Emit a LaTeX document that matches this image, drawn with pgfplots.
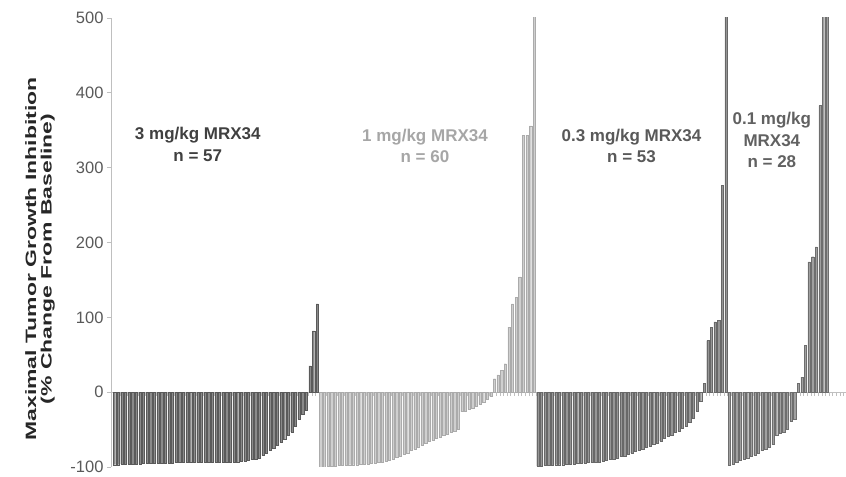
\documentclass[border=0pt]{standalone}
\usepackage{pgfplots}
\pgfplotsset{compat=1.18}
\usepackage{pgfplotstable}
\usepackage{fontspec}
\setmainfont{Liberation Sans}
\definecolor{gAf}{HTML}{8A8A8A}\definecolor{gAe}{HTML}{5A5A5A}
\definecolor{gBf}{HTML}{CFCFCF}\definecolor{gBe}{HTML}{ABABAB}
\definecolor{gCf}{HTML}{969696}\definecolor{gCe}{HTML}{686868}
\definecolor{gDf}{HTML}{A0A0A0}\definecolor{gDe}{HTML}{6E6E6E}
\definecolor{axisgray}{HTML}{BFBFBF}
\definecolor{ticktext}{HTML}{595959}

\pgfplotstableread{
v
-97
-97
-96
-96
-96
-96
-96
-96
-95
-95
-95
-95
-95
-95
-95
-95
-95
-94
-94
-94
-94
-94
-94
-94
-94
-94
-94
-93
-93
-93
-93
-93
-93
-93
-93
-92
-92
-91
-90
-89
-88
-84
-81
-78
-75
-71
-67
-63
-58
-53
-45
-36
-30
-24
35
82
118
}\gA

\pgfplotstableread{
v
-100
-100
-99
-99
-99
-98
-98
-98
-97
-97
-97
-96
-96
-96
-95
-95
-94
-93
-92
-91
-89
-87
-85
-83
-81
-78
-76
-73
-71
-68
-66
-64
-62
-60
-58
-56
-54
-52
-50
-26
-25
-23
-21
-19
-16
-14
-10
-6
18
23
29
38
87
118
127
154
343
343
356
520
}\gB

\pgfplotstableread{
v
-99
-99
-98
-98
-98
-97
-97
-97
-96
-96
-96
-95
-95
-95
-94
-94
-94
-93
-92
-91
-90
-89
-88
-86
-85
-83
-81
-79
-78
-76
-74
-72
-70
-68
-65
-62
-59
-57
-54
-52
-48
-45
-40
-35
-25
-12
12
69
87
94
96
276
520
}\gC

\pgfplotstableread{
v
-98
-96
-93
-91
-89
-88
-86
-84
-81
-78
-76
-73
-70
-57
-55
-53
-50
-39
-36
12
20
63
174
181
194
383
520
520
}\gD

\begin{document}
\begin{tikzpicture}
\begin{axis}[
  name=ax,
  scale only axis,
  width=735pt, height=449pt,
  xmin=0, xmax=203.2,
  ymin=-100, ymax=500,
  axis x line*=middle,
  axis y line*=left,
  x axis line style={axisgray, line width=0.8pt},
  y axis line style={axisgray, line width=0.8pt},
  xtick={0.5,1.5,...,203},
  xticklabels={},
  xtick align=outside,
  x tick style={axisgray, line width=0.5pt},
  major tick length=4pt,
  ytick={-100,0,100,200,300,400,500},
  ytick align=outside,
  y tick style={axisgray, line width=0.8pt},
  yticklabel style={font=\fontsize{16.5}{16.5}\selectfont, text=ticktext},
  /pgf/number format/assume math mode=true,
  yticklabel={\pgfmathprintnumber[assume math mode=true]{\tick}},
]
\addplot[ybar, bar shift=0pt, bar width=0.62, fill=gAf, draw=gAe, line width=0.35pt] table[x expr=\coordindex+1, y=v]{\gA};
\addplot[ybar, bar shift=0pt, bar width=0.62, fill=gBf, draw=gBe, line width=0.35pt] table[x expr=\coordindex+58, y=v]{\gB};
\addplot[ybar, bar shift=0pt, bar width=0.62, fill=gCf, draw=gCe, line width=0.35pt] table[x expr=\coordindex+118, y=v]{\gC};
\addplot[ybar, bar shift=0pt, bar width=0.62, fill=gDf, draw=gDe, line width=0.35pt] table[x expr=\coordindex+171, y=v]{\gD};

\node[font=\bfseries\fontsize{17}{21.5}\selectfont, align=center, text=black!75] at (axis cs:24,331) {3 mg/kg MRX34\\n = 57};
\node[font=\bfseries\fontsize{17}{21.5}\selectfont, align=center, text=black!35] at (axis cs:86.8,329) {1 mg/kg MRX34\\n = 60};
\node[font=\bfseries\fontsize{17}{21.5}\selectfont, align=center, text=black!65] at (axis cs:143.9,329) {0.3 mg/kg MRX34\\n = 53};
\node[font=\bfseries\fontsize{17}{21.5}\selectfont, align=center, text=black!62] at (axis cs:182.7,337) {0.1 mg/kg\\MRX34\\n = 28};
\end{axis}
\node[rotate=90, xscale=1.53, font=\bfseries\fontsize{15}{15.5}\selectfont, align=center, text=black!85]
  at ([xshift=-71pt, yshift=208pt]ax.south west) {Maximal Tumor Growth Inhibition\\(\% Change From Baseline)};
\pgfresetboundingbox
\path[use as bounding box] ([xshift=-111pt, yshift=-10pt]ax.south west) rectangle ([yshift=18pt]ax.north east);
\end{tikzpicture}
\end{document}
